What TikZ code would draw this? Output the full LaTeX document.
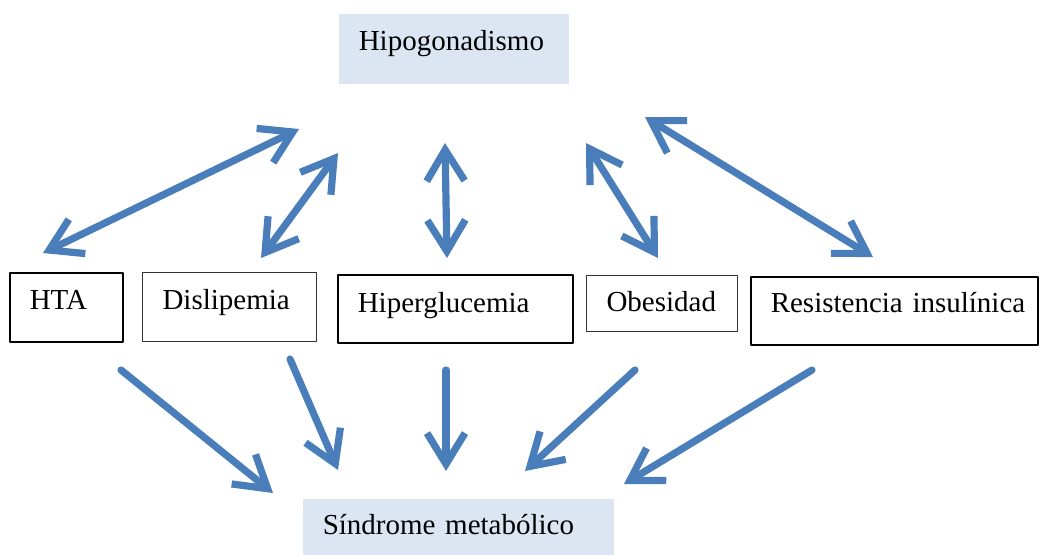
\documentclass[tikz,border=0pt]{standalone}
\usepackage{fontspec}
\setmainfont{Liberation Serif}
\usetikzlibrary{arrows.meta}
\definecolor{azul}{RGB}{74,126,187}
\definecolor{celeste}{RGB}{220,230,242}

\begin{document}
\begin{tikzpicture}[line join=round,x=0.5pt,y=-0.5pt,
    >={Straight Barb[length=15.5pt,width=19pt]},
    caja/.style={draw,line width=0.75pt,inner sep=0pt,align=left,anchor=north west,
      font=\fontsize{14.5}{17}\selectfont,execute at begin node={\noindent\hspace*{10pt}}},
    fondo/.style={caja,draw=none,fill=celeste},
    flecha/.style={line width=3.6pt,color=azul,line cap=round}]
  \useasboundingbox (0,0) rectangle (1039,554);

  % cajas
  \node[fondo,text width=115pt,text height=18.5pt,text depth=16.5pt] (hipo) at (338,13) {Hipogonadismo};
  \node[caja,text width=56.5pt,text height=18.5pt,text depth=16pt] (hta) at (9,272) {HTA};
  \node[caja,draw=black!80,line width=0.5pt,text width=87pt,text height=18.5pt,text depth=16pt] (disl) at (142,272) {Dislipemia};
  \node[caja,text width=117.5pt,text height=19pt,text depth=15pt] (hiper) at (337,274) {Hiperglucemia};
  \node[caja,draw=black!80,line width=0.5pt,text width=75.5pt,text height=18pt,text depth=10pt] (obes) at (586,275) {Obesidad};
  \node[caja,text width=143.5pt,text height=18pt,text depth=16pt] (resis) at (750,276) {Resistencia insul\'inica};
  \node[fondo,text width=155.5pt,text height=18pt,text depth=12pt] (sind) at (302,498) {S\'indrome metab\'olico};

  % extremos de las flechas
  \coordinate (hta-u) at (43,253);   \coordinate (hipo-1) at (299,129);
  \coordinate (disl-u) at (261,258); \coordinate (hipo-2) at (338,153);
  \coordinate (hiper-u) at (447,258);\coordinate (hipo-3) at (445,143);
  \coordinate (obes-u) at (658,258); \coordinate (hipo-4) at (586,143);
  \coordinate (resis-u) at (873,257);\coordinate (hipo-5) at (645,117);

  \coordinate (hta-b) at (121,370);  \coordinate (sind-1) at (273,493);
  \coordinate (disl-b) at (290,359); \coordinate (sind-2) at (338,470);
  \coordinate (hiper-b) at (446,370);\coordinate (sind-3) at (446,471);
  \coordinate (obes-b) at (635,370); \coordinate (sind-4) at (525,471);
  \coordinate (resis-b) at (812,370);\coordinate (sind-5) at (624,484);

  \foreach \a/\b in {hta-u/hipo-1,disl-u/hipo-2,hiper-u/hipo-3,obes-u/hipo-4,resis-u/hipo-5}
    \draw[flecha,<->] (\a) -- (\b);
  \foreach \a/\b in {hta-b/sind-1,disl-b/sind-2,hiper-b/sind-3,obes-b/sind-4,resis-b/sind-5}
    \draw[flecha,->] (\a) -- (\b);

\end{tikzpicture}
\end{document}
